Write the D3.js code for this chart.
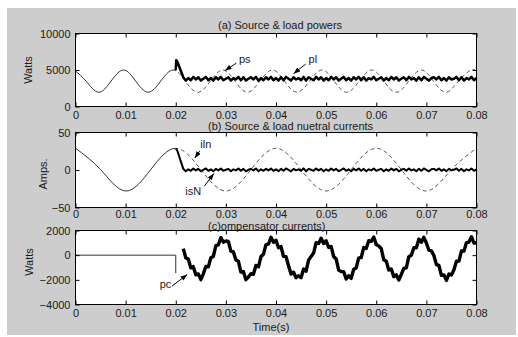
<!DOCTYPE html>
<html>
<head>
<meta charset="utf-8">
<script src="https://cdn.jsdelivr.net/npm/d3@7"></script>
<style>
  body { margin: 0; background: #fff; }
  svg { display: block; }
  text { font-family: "Liberation Sans", Arial, sans-serif; font-size: 11px; fill: #1a1a1a; }
</style>
</head>
<body>
<svg id="chart"></svg>
<script>
// shared time axis
const timeTicks = [0, 0.01, 0.02, 0.03, 0.04, 0.05, 0.06, 0.07, 0.08];
const timeLabels = ["0", "0.01", "0.02", "0.03", "0.04", "0.05", "0.06", "0.07", "0.08"];
const noiseT0 = 0.0215;
const noiseStep = 0.0005;

// (a) source & load powers
const powerTicks = [0, 5000, 10000];
const powerWaveT = [0, 0.0021, 0.0046, 0.0071, 0.0096, 0.0120, 0.0145, 0.0170, 0.0195, 0.0219, 0.0244, 0.0269,
  0.0294, 0.0318, 0.0343, 0.0368, 0.0393, 0.0417, 0.0442, 0.0467, 0.0492, 0.0516, 0.0541, 0.0566,
  0.0591, 0.0615, 0.0640, 0.0665, 0.0690, 0.0714, 0.0739, 0.0764, 0.0789, 0.08];
const powerWave = [4850, 3480, 1950, 3480, 5000, 3480, 1950, 3480, 5000, 3480, 1950, 3480,
  5000, 3480, 1950, 3480, 5000, 3480, 1950, 3480, 5000, 3480, 1950, 3480,
  5000, 3480, 1950, 3480, 5000, 3480, 1950, 3480, 5000, 4800];
const powerJumpT = [0.02, 0.0201, 0.0204];
const powerJump = [4970, 6350, 6000];
const powerNoisy = [4000, 3550, 3900, 3600, 4050, 3700, 4000, 3550, 3800, 4050, 3600, 3900, 3550, 4000, 3700, 4050,
  3600, 3800, 4000, 3550, 3900, 3700, 4050, 3600, 4000, 3550, 3800, 4000, 3700, 4050, 3550, 3900,
  3600, 4000, 3700, 4050, 3600, 3900, 3550, 4000, 3600, 4050, 3800, 3550, 4000, 3700, 3900, 3600,
  4050, 3550, 4000, 3800, 3600, 4050, 3700, 4000, 3550, 3900, 3600, 4050, 3700, 4000, 3550, 3800,
  4050, 3600, 3900, 3550, 4000, 3700, 4050, 3600, 4000, 3550, 3900, 3700, 4050, 3600, 3800, 4000,
  3550, 3900, 3600, 4050, 3700, 4000, 3550, 3800, 4000, 3600, 4050, 3700, 3900, 3550, 4000, 3600,
  4050, 3800, 3550, 3900, 4000, 3700, 4050, 3600, 3900, 3550, 4000, 3700, 3800, 4050, 3600, 4000,
  3550, 3900, 3700, 4050, 3600, 3900];

// (b) source & load neutral currents
const currentTicks = [-50, 0, 50];
const currentWaveT = [0, 0.005, 0.01, 0.015, 0.02, 0.025, 0.03, 0.035, 0.04, 0.045, 0.05, 0.055, 0.06, 0.065, 0.07, 0.075, 0.08];
const currentWave = [29, 0.5, -28, 0.5, 29, 0.5, -28, 0.5, 29, 0.5, -28, 0.5, 29, 0.5, -28, 0.5, 29];
const currentJumpT = [0.02, 0.0203];
const currentJump = [28.6, 26];
const currentNoisy = [1.5, -1.7, 0.9, -1.1, 2.1, -0.5, 1.5, -1.7, 0.3, 2.1, -1.1, 0.9, -1.7, 1.5, -0.5, 2.1,
  -1.1, 0.3, 1.5, -1.7, 0.9, -0.5, 2.1, -1.1, 1.5, -1.7, 0.3, 1.5, -0.5, 2.1, -1.7, 0.9,
  -1.1, 1.5, -0.5, 2.1, -1.1, 0.9, -1.7, 1.5, -1.1, 2.1, 0.3, -1.7, 1.5, -0.5, 0.9, -1.1,
  2.1, -1.7, 1.5, 0.3, -1.1, 2.1, -0.5, 1.5, -1.7, 0.9, -1.1, 2.1, -0.5, 1.5, -1.7, 0.3,
  2.1, -1.1, 0.9, -1.7, 1.5, -0.5, 2.1, -1.1, 1.5, -1.7, 0.9, -0.5, 2.1, -1.1, 0.3, 1.5,
  -1.7, 0.9, -1.1, 2.1, -0.5, 1.5, -1.7, 0.3, 1.5, -1.1, 2.1, -0.5, 0.9, -1.7, 1.5, -1.1,
  2.1, 0.3, -1.7, 0.9, 1.5, -0.5, 2.1, -1.1, 0.9, -1.7, 1.5, -0.5, 0.3, 2.1, -1.1, 1.5,
  -1.7, 0.9, -0.5, 2.1, -1.1, 0.9];

// (c) compensator currents
const compTicks = [-4000, -2000, 0, 2000];
const compFlatT = [0, 0.02, 0.02];
const compFlat = [0, 0, -1460];
const compNoisy = [530, -220, -310, -1030, -930, -1590, -1520, -1984, -1511, -914, -946, -209, -99, 776, 842, 1420,
  1045, 1150, 1112, 326, 261, -389, -496, -1364, -1331, -1984, -1774, -1505, -1544, -835, -946, -114,
  80, 851, 897, 1447, 1042, 1208, 604, 696, -102, -123, -854, -1527, -1382, -1828, -1678, -1830,
  -1123, -1295, -402, -108, 167, 1012, 946, 1378, 943, 1169, 631, 704, -105, -309, -1212, -1326,
  -1338, -1936, -1666, -1878, -1146, -1032, -219, -195, 614, 541, 1169, 1123, 1468, 856, 742, 527,
  -378, -492, -1205, -1123, -1740, -1588, -2008, -1562, -1077, -1034, -123, -12, 606, 604, 1298, 1042,
  1447, 987, 401, 350, -24, -766, -835, -1634, -1595, -2044, -1534, -1601, -1184, -496, -479, 351,
  326, 1022, 1060, 1495, 970, 1022];

// arrow notes, in data units: label anchor, arrow tail, arrow head
const powerNotes = [
  { label: "ps", at: [0.0326, 5930], from: [0.0321, 5950], to: [0.0298, 4900] },
  { label: "pl", at: [0.0465, 5930], from: [0.0459, 5800], to: [0.0435, 4500] },
];
const currentNotes = [
  { label: "iln", at: [0.0249, 30], from: [0.0248, 25.5], to: [0.0238, 16] },
  { label: "isN", at: [0.0219, -33.6], from: [0.0257, -21.6], to: [0.0276, -4.7] },
];
const compNotes = [
  { label: "pc", at: [0.0168, -2700], from: [0.0193, -2490], to: [0.0223, -1570] },
];

const W = 518, H = 337;
const svg = d3.select("#chart").attr("width", W).attr("height", H);
svg.append("rect").attr("width", W).attr("height", H).attr("fill", "#fff");
svg.append("rect").attr("x", 7).attr("y", 8).attr("width", 509).attr("height", 327).attr("fill", "#cdcdcd");

const defs = svg.append("defs");
defs.append("marker")
  .attr("id", "head")
  .attr("viewBox", "0 0 8 6")
  .attr("refX", 8).attr("refY", 3)
  .attr("markerWidth", 7).attr("markerHeight", 5)
  .attr("markerUnits", "userSpaceOnUse")
  .attr("orient", "auto")
  .append("path").attr("d", "M0,0L8,3L0,6Z").attr("fill", "#000");

const x = d3.scaleLinear().domain([0, 0.08]).range([75.5, 476.5]);
const zip = (ts, vs) => ts.map((t, i) => [t, vs[i]]);
const noisyPoints = (vs) => vs.map((v, i) => [noiseT0 + i * noiseStep, v]);

let clipId = 0;
function clip(x0, x1, top, bottom) {
  const id = "clip" + (clipId++);
  defs.append("clipPath").attr("id", id)
    .append("rect").attr("x", x0).attr("y", top).attr("width", x1 - x0).attr("height", bottom - top);
  return `url(#${id})`;
}

function panel(p) {
  const y = d3.scaleLinear().domain(p.domain).range([p.bottom, p.top]);
  const g = svg.append("g");
  const [x0, x1] = x.range();

  g.append("rect").attr("x", x0).attr("y", p.top).attr("width", x1 - x0).attr("height", p.bottom - p.top)
    .attr("fill", "#fff");

  const line = d3.line().x((d) => x(d[0])).y((d) => y(d[1]));
  const smooth = d3.line().x((d) => x(d[0])).y((d) => y(d[1])).curve(d3.curveNatural);

  if (p.wave) {
    g.append("path").attr("d", smooth(p.wave))
      .attr("clip-path", clip(x(0.02), x1, p.top, p.bottom))
      .attr("fill", "none").attr("stroke", "#444").attr("stroke-width", 0.9).attr("stroke-dasharray", "4,3");
    g.append("path").attr("d", smooth(p.wave))
      .attr("clip-path", clip(x0 - 1, x(0.02), p.top, p.bottom))
      .attr("fill", "none").attr("stroke", "#333").attr("stroke-width", 1);
  }
  if (p.pre) {
    g.append("path").attr("d", line(p.pre))
      .attr("fill", "none").attr("stroke", "#333").attr("stroke-width", 1);
  }
  g.append("path").attr("d", line(p.noisy))
    .attr("fill", "none").attr("stroke", "#000").attr("stroke-width", p.noiseWidth)
    .attr("stroke-linejoin", "round");

  // axes, ticks inside the box like MATLAB
  g.append("g").attr("transform", `translate(0,${p.bottom})`)
    .call(d3.axisBottom(x).tickValues(timeTicks).tickFormat((d, i) => timeLabels[i]).tickSize(-4).tickPadding(p.xPad))
    .call((a) => a.select(".domain").remove());
  g.append("g").attr("transform", `translate(0,${p.top})`)
    .call(d3.axisTop(x).tickValues(timeTicks).tickFormat("").tickSize(-4))
    .call((a) => a.select(".domain").remove());
  g.append("g").attr("transform", `translate(${x0},0)`)
    .call(d3.axisLeft(y).tickValues(p.ticks).tickFormat(d3.format("d")).tickSize(-4).tickPadding(5))
    .call((a) => a.select(".domain").remove());
  g.append("g").attr("transform", `translate(${x1},0)`)
    .call(d3.axisRight(y).tickValues(p.ticks).tickFormat("").tickSize(-4))
    .call((a) => a.select(".domain").remove());
  g.selectAll(".tick text").attr("font-size", 11).attr("font-family", "Liberation Sans, Arial, sans-serif")
    .attr("fill", "#1a1a1a");
  g.selectAll(".tick line").attr("stroke", "#000");

  g.append("rect").attr("x", x0).attr("y", p.top).attr("width", x1 - x0).attr("height", p.bottom - p.top)
    .attr("fill", "none").attr("stroke", "#000").attr("stroke-width", 1);

  g.append("text").attr("x", p.titleX).attr("y", p.titleY).attr("font-size", 10.5).text(p.title);
  g.append("text")
    .attr("transform", `translate(${p.ylabelAt[0]},${p.ylabelAt[1]}) rotate(-90)`)
    .attr("text-anchor", "middle").attr("dy", "0.35em").text(p.ylabel);

  p.notes.forEach((n) => {
    g.append("line")
      .attr("x1", x(n.from[0])).attr("y1", y(n.from[1]))
      .attr("x2", x(n.to[0])).attr("y2", y(n.to[1]))
      .attr("stroke", "#000").attr("stroke-width", 1).attr("marker-end", "url(#head)");
    g.append("text").attr("x", x(n.at[0])).attr("y", y(n.at[1])).text(n.label);
  });
}

panel({
  domain: [0, 10000], top: 33.5, bottom: 106.5, ticks: powerTicks, xPad: 5,
  wave: zip(powerWaveT, powerWave),
  noisy: zip(powerJumpT, powerJump).concat(noisyPoints(powerNoisy)), noiseWidth: 2.5,
  title: "(a) Source & load powers", titleX: 218, titleY: 29,
  ylabel: "Watts", ylabelAt: [28, 70], notes: powerNotes,
});
panel({
  domain: [-50, 50], top: 132.5, bottom: 207.5, ticks: currentTicks, xPad: 3,
  wave: zip(currentWaveT, currentWave),
  noisy: zip(currentJumpT, currentJump).concat(noisyPoints(currentNoisy)), noiseWidth: 2,
  title: "(b) Source & load nuetral currents", titleX: 208, titleY: 130,
  ylabel: "Amps.", ylabelAt: [43, 174], notes: currentNotes,
});
panel({
  domain: [-4000, 2000], top: 230.5, bottom: 304.5, ticks: compTicks, xPad: 5,
  pre: zip(compFlatT, compFlat),
  noisy: noisyPoints(compNoisy), noiseWidth: 3.4,
  title: "(c)ompensator currents)", titleX: 208, titleY: 229.8,
  ylabel: "Watts", ylabelAt: [29, 262], notes: compNotes,
});

svg.append("text").attr("x", 271).attr("y", 330.5).attr("text-anchor", "middle").text("Time(s)");
</script>
</body>
</html>
